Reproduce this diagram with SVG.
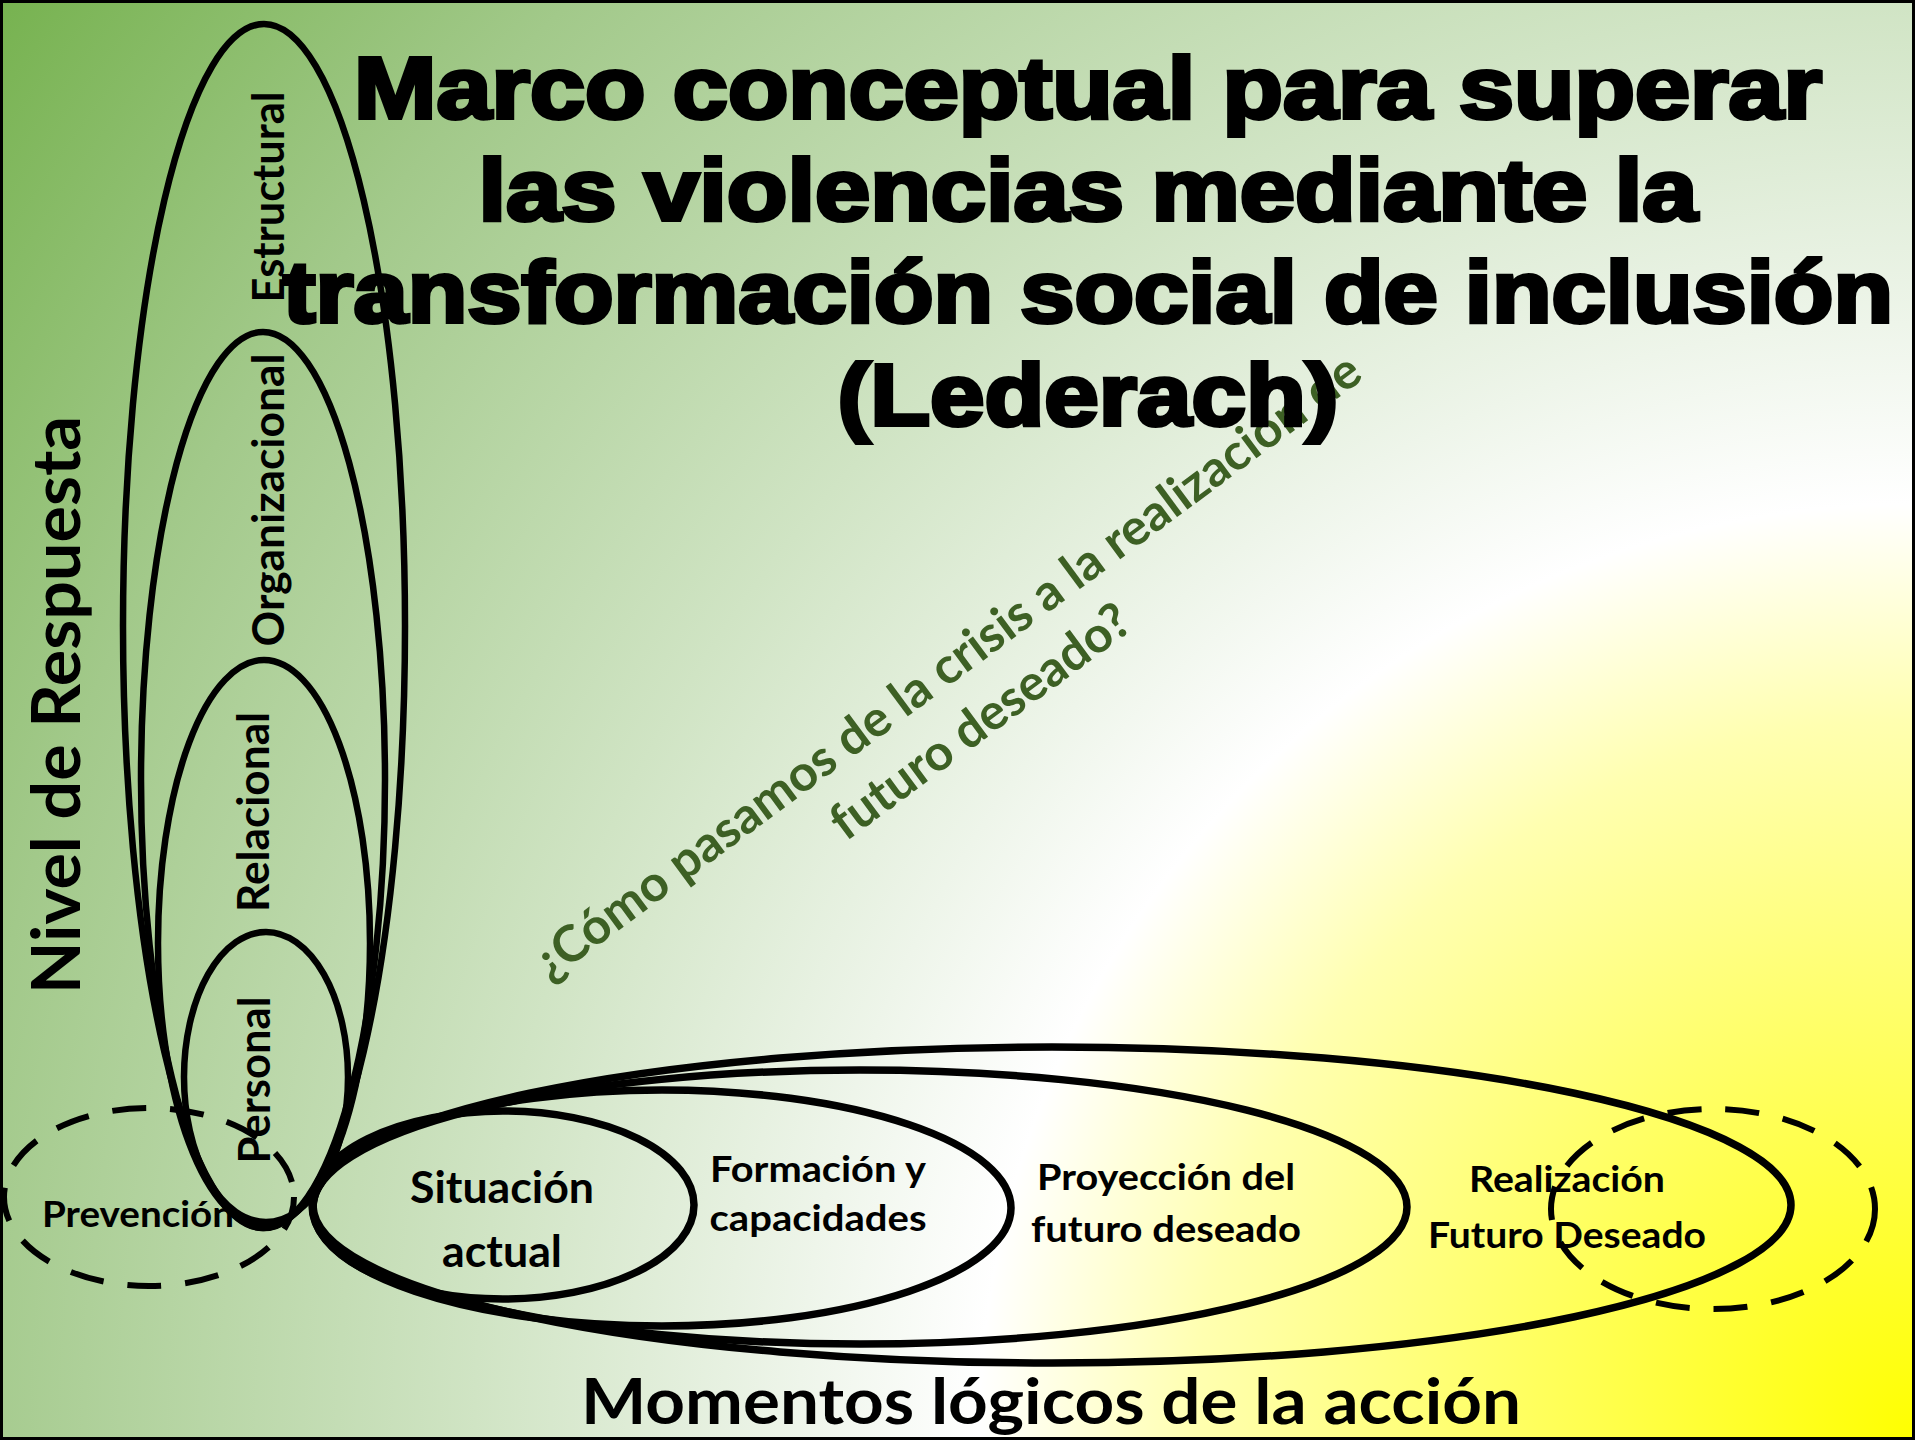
<svg xmlns="http://www.w3.org/2000/svg" width="1915" height="1440" viewBox="0 0 1915 1440">
  <defs>
    <radialGradient id="bg" gradientUnits="userSpaceOnUse" cx="1915" cy="1440" r="2400">
      <stop offset="0" stop-color="#ffff00"/>
      <stop offset="0.3" stop-color="#ffffb0"/>
      <stop offset="0.39" stop-color="#ffffff"/>
      <stop offset="0.465" stop-color="#eef5ea"/>
      <stop offset="0.6" stop-color="#d0e4c4"/>
      <stop offset="0.82" stop-color="#a2c98a"/>
      <stop offset="1" stop-color="#76b24f"/>
    </radialGradient>
    <style>
      .ell { fill: none; stroke: #000; stroke-width: 6.5; }
      .ellh { fill: none; stroke: #000; stroke-width: 7.5; }
      .dash { fill: none; stroke: #000; stroke-width: 6; stroke-dasharray: 34 24; }
      .lbl { font-family: Lato, "Open Sans", "Liberation Sans", sans-serif; font-weight: 700; fill: #000; }
      .mid { text-anchor: middle; }
      .title { font-family: "Liberation Sans", Arial, sans-serif; font-weight: 700; font-size: 88px; fill: #000; stroke: #000; stroke-width: 4; text-anchor: middle; }
      .q { font-family: Lato, "Open Sans", sans-serif; font-weight: 700; font-size: 50px; fill: #3d6024; text-anchor: middle; }
    </style>
  </defs>

  <rect id="background" x="0" y="0" width="1915" height="1440" fill="url(#bg)"/>

  <g id="question">
    <g transform="translate(957,680) rotate(-36.5)">
      <text class="q" x="0" y="0" textLength="1015" lengthAdjust="spacingAndGlyphs">¿Cómo pasamos de la crisis a la realización de</text>
      <text class="q" x="-6" y="64">futuro deseado?</text>
    </g>
  </g>

  <g id="title">
    <text class="title" x="1088" y="118" textLength="1468" lengthAdjust="spacingAndGlyphs">Marco conceptual para superar</text>
    <text class="title" x="1088" y="220" textLength="1219" lengthAdjust="spacingAndGlyphs">las violencias mediante la</text>
    <text class="title" x="1088" y="322" textLength="1610" lengthAdjust="spacingAndGlyphs">transformación social de inclusión</text>
    <text class="title" x="1088" y="425" textLength="501" lengthAdjust="spacingAndGlyphs">(Lederach)</text>
  </g>

  <g id="axis-y">
    <text class="lbl mid" transform="translate(80,705) rotate(-90)" font-size="66" textLength="578" lengthAdjust="spacingAndGlyphs">Nivel de Respuesta</text>
  </g>

  <g id="node-estructural">
    <ellipse class="ell" cx="264" cy="626" rx="141" ry="602"/>
    <text class="lbl mid" transform="translate(284,197) rotate(-90)" font-size="44" textLength="211" lengthAdjust="spacingAndGlyphs">Estructural</text>
  </g>
  <g id="node-organizacional">
    <ellipse class="ell" cx="263" cy="780" rx="122" ry="448"/>
    <text class="lbl mid" transform="translate(284,500) rotate(-90)" font-size="44" textLength="293" lengthAdjust="spacingAndGlyphs">Organizacional</text>
  </g>
  <g id="node-relacional">
    <ellipse class="ell" cx="264" cy="943" rx="106" ry="283"/>
    <text class="lbl mid" transform="translate(269,812) rotate(-90)" font-size="44" textLength="200" lengthAdjust="spacingAndGlyphs">Relacional</text>
  </g>
  <g id="node-personal">
    <ellipse class="ell" cx="266" cy="1077" rx="82" ry="145"/>
    <text class="lbl mid" transform="translate(270,1080) rotate(-90)" font-size="44" textLength="167" lengthAdjust="spacingAndGlyphs">Personal</text>
  </g>

  <g id="node-situacion">
    <ellipse class="ellh" cx="503" cy="1205" rx="191" ry="94"/>
    <text class="lbl mid" x="502" y="1203" font-size="43" textLength="184" lengthAdjust="spacingAndGlyphs">Situación</text>
    <text class="lbl mid" x="502" y="1267" font-size="43" textLength="120" lengthAdjust="spacingAndGlyphs">actual</text>
  </g>
  <g id="node-formacion">
    <ellipse class="ellh" cx="662" cy="1208" rx="349" ry="118"/>
    <text class="lbl mid" x="818" y="1182" font-size="37" textLength="216" lengthAdjust="spacingAndGlyphs">Formación y</text>
    <text class="lbl mid" x="818" y="1231" font-size="37" textLength="217" lengthAdjust="spacingAndGlyphs">capacidades</text>
  </g>
  <g id="node-proyeccion">
    <ellipse class="ellh" cx="860" cy="1207" rx="547" ry="137"/>
    <text class="lbl mid" x="1166" y="1190" font-size="37" textLength="258" lengthAdjust="spacingAndGlyphs">Proyección del</text>
    <text class="lbl mid" x="1166" y="1242" font-size="37" textLength="270" lengthAdjust="spacingAndGlyphs">futuro deseado</text>
  </g>
  <g id="node-realizacion">
    <ellipse class="ellh" cx="1052" cy="1205" rx="739" ry="158"/>
    <text class="lbl mid" x="1567" y="1192" font-size="37" textLength="196" lengthAdjust="spacingAndGlyphs">Realización</text>
    <text class="lbl mid" x="1567" y="1248" font-size="37" textLength="278" lengthAdjust="spacingAndGlyphs">Futuro Deseado</text>
  </g>

  <g id="node-prevencion">
    <text class="lbl" x="42" y="1227" font-size="37" textLength="192" lengthAdjust="spacingAndGlyphs">Prevención</text>
    <ellipse class="dash" cx="149" cy="1197" rx="145" ry="89"/>
  </g>
  <g id="node-realizacion-dashed">
    <ellipse class="dash" cx="1713" cy="1209" rx="162" ry="100"/>
  </g>

  <g id="axis-x">
    <text class="lbl mid" x="1051" y="1424" font-size="64" textLength="940" lengthAdjust="spacingAndGlyphs">Momentos lógicos de la acción</text>
  </g>

  <g id="connectors"/>

  <rect id="frame" x="0" y="0" width="1915" height="1440" fill="none" stroke="#000" stroke-width="6"/>
</svg>
